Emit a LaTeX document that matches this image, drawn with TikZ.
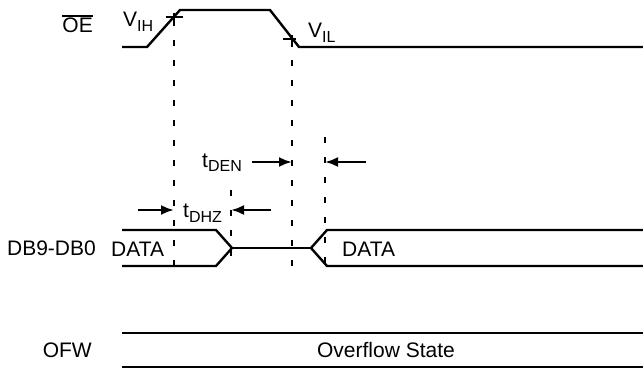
\documentclass[tikz,border=0pt]{standalone}
\usepackage{fontspec}
\setmainfont{Liberation Sans}
\usetikzlibrary{arrows.meta}
\newcommand{\lowidx}[2]{#1\raisebox{-5pt}{\fontsize{16}{16}\selectfont #2}}

\begin{document}
\begin{tikzpicture}[
  x=1pt, y=-1pt,
  font=\fontsize{21}{25}\selectfont,
  wave/.style={line width=2.4pt},
  guide/.style={line width=2.4pt, dash pattern=on 6pt off 14pt},
  meas/.style={line width=2.4pt, -{Latex[length=13pt,width=10pt]}},
  lbl/.style={inner sep=0pt, anchor=base west},
  sname/.style={inner sep=0pt, anchor=base east},
  ]
  \useasboundingbox (0,0) rectangle (643,369);
  % signal names
  \node[sname] (oe) at (93,33) {OE};
  \draw[line width=1.8pt] ([yshift=2pt]oe.north west) -- ([yshift=2pt]oe.north east);
  \node[sname] (db) at (96,255) {DB9-DB0};
  \node[sname] (ofw) at (92,357) {OFW};
  % OE waveform with threshold marks
  \draw[wave] (122,47) -- (147,47) -- (180,10) -- (270,10) -- (299,47) -- (643,47);
  \coordinate (ih) at (174,17);
  \coordinate (il) at (292,39);
  \draw[wave] ([xshift=-8pt]ih) -- ([xshift=9pt]ih) ([yshift=4pt]ih) -- ([yshift=-8pt]ih);
  \draw[wave] ([xshift=-9pt]il) -- ([xshift=4pt]il) ([yshift=4pt]il) -- ([yshift=-8pt]il);
  \node[lbl] (vih) at (123,27) {\lowidx{V}{IH}};
  \node[lbl] (vil) at (308,38) {\lowidx{V}{IL}};
  % guide lines
  \coordinate (hz) at (231,190);
  \coordinate (en) at (325,137);
  \draw[guide] ([yshift=-3pt]ih) -- (ih |- 0,270);
  \draw[guide] ([yshift=-1pt]il) -- (il |- 0,270);
  \draw[guide] (hz) -- (hz |- 0,270);
  \draw[guide] (en) -- (en |- 0,270);
  % data bus
  \draw[wave] (122,230) -- (216,230) -- (232,248) -- (216,266) -- (122,266);
  \draw[wave] (232,248) -- (311,248);
  \draw[wave] (643,230) -- (327,230) -- (311,248) -- (327,266) -- (643,266);
  \node[lbl] (d0) at (111,256) {DATA};
  \node[lbl] (d1) at (342,256) {DATA};
  % timing parameters
  \draw[meas] (138,210) -- (ih |- 0,210);
  \draw[meas] (271,210) -- (hz |- 0,210);
  \node[lbl] (tdhz) at (183,217) {\lowidx{t}{DHZ}};
  \draw[meas] (252,162) -- (il |- 0,162);
  \draw[meas] (366,162) -- (en |- 0,162);
  \node[lbl] (tden) at (202,167) {\lowidx{t}{DEN}};
  % overflow flag
  \draw[wave] (122,333) -- (643,333);
  \draw[wave] (122,367) -- (643,367);
  \node[inner sep=0pt, anchor=base] (ofs) at (386,357) {Overflow State};
\end{tikzpicture}
\end{document}
